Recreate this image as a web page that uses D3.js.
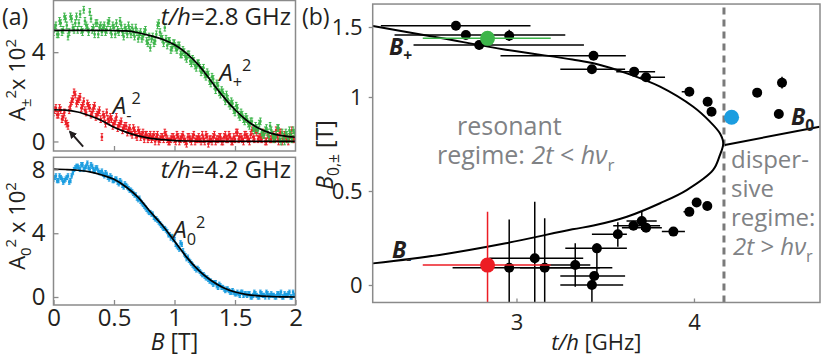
<!DOCTYPE html>
<html>
<head>
<meta charset="utf-8">
<script src="https://cdn.jsdelivr.net/npm/d3@7"></script>
<style>
  body { margin: 0; background: #fff; }
  text { font-family: "Open Sans", "Noto Sans", sans-serif; fill: #231f20; }
</style>
</head>
<body>
<div id="chart"></div>
<script>
// ---- panel (a): field sweeps, B in tesla (two interleaved halves of one sweep) ----
var fieldB = [0, 0.02, 0.04, 0.06, 0.08, 0.1, 0.12, 0.14, 0.16, 0.18,
    0.2, 0.22, 0.24, 0.26, 0.28, 0.3, 0.32, 0.34, 0.36, 0.38,
    0.4, 0.42, 0.44, 0.46, 0.48, 0.5, 0.52, 0.54, 0.56, 0.58,
    0.6, 0.62, 0.64, 0.66, 0.68, 0.7, 0.72, 0.74, 0.76, 0.78,
    0.8, 0.82, 0.84, 0.86, 0.88, 0.9, 0.92, 0.94, 0.96, 0.98,
    1.0, 1.02, 1.04, 1.06, 1.08, 1.1, 1.12, 1.14, 1.16, 1.18,
    1.2, 1.22, 1.24, 1.26, 1.28, 1.3, 1.32, 1.34, 1.36, 1.38,
    1.4, 1.42, 1.44, 1.46, 1.48, 1.5, 1.52, 1.54, 1.56, 1.58,
    1.6, 1.62, 1.64, 1.66, 1.68, 1.7, 1.72, 1.74, 1.76, 1.78,
    1.8, 1.82, 1.84, 1.86, 1.88, 1.9, 1.92, 1.94, 1.96, 1.98, 2.0]
var fieldBOdd = [0.01, 0.03, 0.05, 0.07, 0.09, 0.11, 0.13, 0.15, 0.17, 0.19,
    0.21, 0.23, 0.25, 0.27, 0.29, 0.31, 0.33, 0.35, 0.37, 0.39,
    0.41, 0.43, 0.45, 0.47, 0.49, 0.51, 0.53, 0.55, 0.57, 0.59,
    0.61, 0.63, 0.65, 0.67, 0.69, 0.71, 0.73, 0.75, 0.77, 0.79,
    0.81, 0.83, 0.85, 0.87, 0.89, 0.91, 0.93, 0.95, 0.97, 0.99,
    1.01, 1.03, 1.05, 1.07, 1.09, 1.11, 1.13, 1.15, 1.17, 1.19,
    1.21, 1.23, 1.25, 1.27, 1.29, 1.31, 1.33, 1.35, 1.37, 1.39,
    1.41, 1.43, 1.45, 1.47, 1.49, 1.51, 1.53, 1.55, 1.57, 1.59,
    1.61, 1.63, 1.65, 1.67, 1.69, 1.71, 1.73, 1.75, 1.77, 1.79,
    1.81, 1.83, 1.85, 1.87, 1.89, 1.91, 1.93, 1.95, 1.97, 1.99]

var ampPlus = [4.9, 5.2, 4.8, 5.3, 5.0, 5.5, 4.7, 5.6, 5.1, 5.3,
    5.0, 5.7, 4.9, 5.4, 5.1, 5.8, 5.0, 4.8, 5.3, 5.1,
    4.9, 5.2, 5.0, 5.4, 4.8, 5.1, 5.3, 4.9, 5.2, 4.7,
    5.0, 5.2, 4.8, 4.9, 5.1, 4.6, 4.9, 4.7, 5.0, 4.4,
    4.2, 4.7, 4.5, 5.2, 4.9, 4.6, 5.1, 4.3, 4.5, 4.2,
    4.4, 4.1, 4.3, 3.9, 4.0, 3.7, 3.9, 3.5, 3.6, 3.3,
    3.5, 3.1, 3.3, 2.9, 3.0, 2.6, 2.8, 2.3, 2.5, 2.1,
    2.2, 1.8, 1.9, 1.6, 1.7, 1.3, 1.5, 1.1, 1.2, 0.9,
    1.0, 0.7, 0.9, 0.5, 0.6, 0.8, 0.4, 0.3, 0.6, 0.2,
    0.5, 0.1, 0.3, 0.6, 0.0, 0.2, 0.4, 0.1, 0.3, 0.5, 0.2]
var ampPlusOdd = [5.1, 4.8, 5.4, 4.9, 5.6, 5.2, 4.9, 5.5, 5.0, 5.6,
    5.3, 5.0, 5.9, 5.2, 4.9, 5.5, 5.1, 5.3, 4.8, 5.2,
    5.1, 4.9, 5.3, 5.0, 5.2, 4.8, 5.0, 5.4, 4.9, 5.1,
    4.8, 5.0, 5.1, 4.7, 4.9, 4.8, 4.6, 4.9, 4.5, 4.7,
    4.6, 4.4, 4.8, 5.3, 4.7, 4.4, 4.6, 4.5, 4.1, 4.4,
    4.2, 4.3, 3.9, 4.1, 3.8, 3.9, 3.6, 3.7, 3.4, 3.5,
    3.3, 3.2, 3.0, 3.1, 2.7, 2.9, 2.5, 2.6, 2.2, 2.3,
    2.0, 2.1, 1.7, 1.8, 1.4, 1.6, 1.2, 1.3, 1.0, 1.1,
    0.8, 0.9, 0.6, 0.7, 0.5, 0.9, 0.3, 0.5, 0.4, 0.7,
    0.3, 0.2, 0.6, 0.1, 0.4, 0.0, 0.3, 0.5, 0.1, 0.4]

var ampMinus = [1.3, 1.5, 1.2, 1.4, 1.1, 0.9, 0.7, 1.6, 1.9, 2.1,
    1.8, 2.0, 1.6, 1.4, 1.7, 1.5, 1.3, 1.6, 1.2, 1.4,
    0.2, 1.1, 1.3, 0.9, 1.0, 0.8, 1.1, 0.7, 0.9, 0.6,
    0.7, 0.5, 0.4, 0.6, 0.3, 0.5, 0.2, 0.4, 0.3, 0.1,
    0.3, 0.2, 0.0, 0.3, 0.1, 0.2, 0.4, 0.1, 0.0, 0.2,
    0.1, 0.3, 0.0, 0.2, 0.1, -0.1, 0.2, 0.0, 0.3, 0.1,
    0.2, 0.0, 0.1, 0.3, -0.1, 0.1, 0.2, 0.0, 0.1, 0.2,
    0.0, 0.3, 0.1, 0.2, 0.0, 0.1, 0.4, 0.2, 0.1, 0.3,
    0.2, 0.0, 0.5, 0.1, 0.4, 0.2, 0.1, 0.3, 0.0, 0.2,
    0.1, 0.3, 0.5, 0.0, 0.4, 0.1, 0.2, 0.0, 0.3, 0.1, 0.2]
var ampMinusOdd = [1.4, 1.2, 1.5, 1.0, 1.3, 0.8, 1.4, 1.8, 2.2, 1.7,
    1.9, 1.5, 1.8, 1.3, 1.6, 1.2, 1.5, 1.1, 1.3, 1.0,
    1.2, 0.8, 1.0, 1.1, 0.7, 0.9, 0.6, 0.8, 0.5, 0.7,
    0.4, 0.6, 0.3, 0.5, 0.2, 0.4, 0.3, 0.1, 0.3, 0.2,
    0.1, 0.3, 0.2, 0.0, 0.2, 0.1, 0.3, 0.0, 0.1, 0.2,
    0.0, 0.2, 0.1, 0.3, 0.0, 0.2, 0.1, 0.2, 0.0, 0.1,
    0.1, 0.3, 0.0, 0.2, 0.1, 0.0, 0.3, 0.1, 0.2, 0.0,
    0.2, 0.1, 0.3, 0.0, 0.2, 0.4, 0.1, 0.2, 0.0, 0.3,
    0.1, 0.3, 0.2, 0.5, 0.1, 0.2, 0.4, 0.0, 0.3, 0.1,
    0.3, 0.1, 0.2, 0.4, 0.0, 0.3, 0.1, 0.2, 0.5, 0.1]

var ampZero = [7.4, 7.6, 7.3, 7.5, 7.2, 7.4, 7.6, 7.3, 7.8, 8.1,
    8.2, 8.0, 8.3, 8.1, 8.4, 8.0, 8.2, 7.9, 8.1, 7.8,
    7.9, 7.6, 7.7, 7.4, 7.5, 7.3, 7.4, 7.1, 7.2, 6.9,
    7.0, 6.8, 6.7, 6.5, 6.4, 6.1, 6.0, 5.8, 5.6, 5.4,
    5.3, 5.2, 4.9, 4.8, 4.6, 4.4, 4.3, 4.1, 3.9, 3.8,
    3.6, 3.2, 3.0, 3.3, 2.7, 2.4, 2.3, 2.1, 1.9, 1.7,
    1.7, 1.5, 1.4, 1.2, 1.1, 1.0, 0.8, 0.9, 0.6, 0.7,
    0.6, 0.4, 0.5, 0.3, 0.4, 0.2, 0.3, 0.1, 0.3, 0.2,
    0.1, 0.2, 0.0, 0.3, 0.1, 0.0, 0.2, 0.1, 0.3, 0.0,
    0.2, 0.1, 0.0, 0.2, 0.3, 0.0, 0.1, 0.2, 0.0, 0.3, 0.1]
var ampZeroOdd = [7.5, 7.3, 7.6, 7.4, 7.3, 7.5, 7.2, 7.6, 8.0, 8.2,
    8.1, 8.3, 8.0, 8.2, 8.1, 8.3, 8.0, 8.1, 7.9, 7.8,
    7.7, 7.8, 7.5, 7.6, 7.3, 7.4, 7.2, 7.3, 7.0, 7.1,
    6.9, 6.7, 6.6, 6.4, 6.2, 6.2, 5.9, 5.7, 5.5, 5.3,
    5.2, 5.0, 4.9, 4.7, 4.5, 4.3, 4.2, 3.9, 3.7, 3.6,
    3.3, 3.1, 3.4, 2.9, 2.6, 2.5, 2.2, 2.0, 1.8, 1.8,
    1.6, 1.4, 1.3, 1.2, 1.0, 0.9, 0.9, 0.7, 0.8, 0.6,
    0.5, 0.5, 0.4, 0.3, 0.3, 0.2, 0.2, 0.3, 0.1, 0.2,
    0.2, 0.0, 0.1, 0.2, 0.0, 0.3, 0.1, 0.0, 0.2, 0.1,
    0.1, 0.0, 0.2, 0.1, 0.0, 0.2, 0.1, 0.3, 0.0, 0.1]

var errPM = 0.15, errZero = 0.13

// fitted curves
var fitB = [0, 0.1, 0.2, 0.3, 0.4, 0.5, 0.6, 0.7, 0.8, 0.9, 1.0,
    1.1, 1.2, 1.3, 1.4, 1.5, 1.6, 1.7, 1.8, 1.9, 2.0]
var fitPlus = [4.98, 4.98, 4.98, 4.98, 4.98, 4.97, 4.95, 4.87, 4.74, 4.58, 4.33,
    3.95, 3.42, 2.72, 2.03, 1.42, 0.93, 0.58, 0.36, 0.25, 0.19]
var fitMinus = [1.42, 1.40, 1.32, 1.15, 0.93, 0.64, 0.42, 0.25, 0.14, 0.08, 0.04,
    0.02, 0.01, 0, 0, 0, 0, 0, 0, 0, 0]
var fitZero = [8.03, 8.0, 7.95, 7.85, 7.65, 7.38, 6.9, 6.25, 5.35, 4.5, 3.5,
    2.5, 1.67, 1.05, 0.6, 0.31, 0.15, 0.07, 0.03, 0.01, 0]

// ---- panel (b): [t/h, B, tLo, tHi, BLo, BHi] ----
var crossings = [
    [2.659, 1.509, 2.236, 3.079, 1.48, 1.54],
    [2.715, 1.443, 2.313, 3.275, null, null],
    [2.790, 1.371, 2.420, 3.380, 1.34, 1.40],
    [2.959, 1.438, null, null, 1.40, 1.48],
    [3.434, 1.295, 2.910, 3.616, null, null],
    [3.425, 1.198, 3.247, 3.612, null, null],
    [3.663, 1.181, 3.562, 3.781, null, null],
    [3.730, 1.141, 3.697, 3.837, null, null],
    [3.974, 1.038, 3.931, 3.996, null, null],
    [4.077, 0.975, null, null, null, null],
    [4.099, 0.922, null, null, null, null],
    [4.356, 1.031, null, null, null, null],
    [4.496, 1.102, 4.474, 4.518, 1.06, 1.145],
    [4.478, 0.910, null, null, null, null],
    [2.959, 0.092, 2.640, 3.540, -0.2, 0.349],
    [3.103, 0.142, 2.847, 3.376, -0.2, 0.443],
    [3.159, 0.092, 3.020, 3.470, -0.2, 0.355],
    [3.331, 0.106, 3.135, 3.416, -0.009, 0.222],
    [3.453, 0.195, 3.275, 3.622, 0.05, 0.222],
    [3.438, 0.048, 3.247, 3.612, null, null],
    [3.425, 0.000, 3.247, 3.601, -0.2, 0.03],
    [3.571, 0.270, 3.425, 3.622, 0.204, 0.334],
    [3.659, 0.315, 3.545, 3.809, null, null],
    [3.706, 0.340, 3.620, 3.790, 0.293, 0.389],
    [3.730, 0.305, 3.594, 3.819, null, null],
    [3.884, 0.284, 3.819, 3.949, null, null],
    [3.974, 0.389, 3.941, 3.997, null, null],
    [4.015, 0.439, null, null, null, null],
    [4.075, 0.420, null, null, null, null]
]
var markedPlus = [2.837, 1.419, 2.472, 3.193, null, null]
var markedMinus = [2.837, 0.106, 2.472, 3.193, -0.2, 0.39]
var markedZero = [4.212, 0.892, null, null, null, null]

// resonance curve B+ (upper) round to B- (lower)
var resonanceCurve = [[2.191, 1.507], [2.566, 1.423], [2.94, 1.338], [3.315, 1.268],
    [3.434, 1.241], [3.622, 1.169], [3.809, 1.074], [3.996, 0.948], [4.09, 0.869],
    [4.146, 0.807], [4.165, 0.754], [4.146, 0.691], [4.108, 0.612], [3.959, 0.505],
    [3.809, 0.435], [3.622, 0.363], [3.434, 0.316], [3.315, 0.296], [2.94, 0.222],
    [2.566, 0.16], [2.191, 0.115]]
var dispersiveLine = [[4.174, 0.745], [4.708, 0.842]]
var boundaryT = 4.169

var green = '#3db54a', red = '#ec1c24', blue = '#1b9de0', frameGrey = '#8a8a8a', noteGrey = '#808285'

var svg = d3.select('#chart').append('svg')
    .attr('width', 830)
    .attr('height', 357)

function rich(t, parts, size) {
    // parts: {t, i, b, sub, sup}
    var shift = 0
    parts.forEach(function (p) {
        var s = t.append('tspan').text(p.t)
        var target = p.sub ? size * 0.28 : (p.sup ? -size * 0.42 : 0)
        if (target - shift !== 0) s.attr('dy', target - shift)
        shift = target
        if (p.sub || p.sup) s.attr('font-size', size * 0.68)
        if (p.i) s.attr('font-style', 'italic')
        if (p.b) s.attr('font-weight', 'bold')
    })
    return t
}

// ---------- panel (a) ----------
var xA = d3.scaleLinear().domain([0, 2]).range([53.5, 295.5])
var yTop = d3.scaleLinear().domain([-0.427, 6.315]).range([151, 0.5])
var yBot = d3.scaleLinear().domain([-0.502, 8.764]).range([305, 157.3])

function frame(g, x, y) {
    g.append('rect')
        .attr('x', x.range()[0]).attr('y', y.range()[1])
        .attr('width', x.range()[1] - x.range()[0])
        .attr('height', y.range()[0] - y.range()[1])
        .attr('fill', 'none').attr('stroke', frameGrey).attr('stroke-width', 1.5)
}

function sweep(g, xs, ys, err, color, y) {
    var pt = g.selectAll(null).data(ys).enter().append('g')
        .attr('stroke', color).attr('stroke-width', 1)
    pt.append('line')
        .attr('x1', function (d, i) { return xA(xs[i]) })
        .attr('x2', function (d, i) { return xA(xs[i]) })
        .attr('y1', function (d) { return y(d - err) })
        .attr('y2', function (d) { return y(d + err) })
    ;[-1, 1].forEach(function (s) {
        pt.append('line')
            .attr('x1', function (d, i) { return xA(xs[i]) - 1.3 })
            .attr('x2', function (d, i) { return xA(xs[i]) + 1.3 })
            .attr('y1', function (d) { return y(d + s * err) })
            .attr('y2', function (d) { return y(d + s * err) })
    })
    pt.append('rect')
        .attr('x', function (d, i) { return xA(xs[i]) - 1.2 })
        .attr('y', function (d) { return y(d) - 1.2 })
        .attr('width', 2.4).attr('height', 2.4)
        .attr('fill', color).attr('stroke', 'none')
}

function fitLine(g, vals, y) {
    g.append('path')
        .datum(vals)
        .attr('fill', 'none').attr('stroke', '#000').attr('stroke-width', 1.7)
        .attr('d', d3.line()
            .x(function (d, i) { return xA(fitB[i]) })
            .y(function (d) { return y(d) })
            .curve(d3.curveMonotoneX))
}

function styleAxis(ax) {
    ax.select('.domain').remove()
    ax.selectAll('.tick line').attr('stroke', frameGrey).attr('stroke-width', 1.3)
    ax.selectAll('.tick text').attr('fill', '#231f20')
        .style('font-family', '"Open Sans", sans-serif')
}

var defs = svg.append('defs')
defs.append('clipPath').attr('id', 'clipTop').append('rect')
    .attr('x', 53.5).attr('y', 0).attr('width', 242).attr('height', 151)
defs.append('clipPath').attr('id', 'clipBot').append('rect')
    .attr('x', 53.5).attr('y', 157.3).attr('width', 242).attr('height', 147.7)

var topG = svg.append('g')
var topData = topG.append('g').attr('clip-path', 'url(#clipTop)')
sweep(topData, fieldB, ampMinus, errPM, red, yTop)
sweep(topData, fieldBOdd, ampMinusOdd, errPM, red, yTop)
sweep(topData, fieldB, ampPlus, errPM, green, yTop)
sweep(topData, fieldBOdd, ampPlusOdd, errPM, green, yTop)
fitLine(topData, fitPlus, yTop)
fitLine(topData, fitMinus, yTop)

var ax = topG.append('g').attr('transform', 'translate(53.5,0)')
    .call(d3.axisLeft(yTop).tickValues([0, 4]).tickSize(-5).tickPadding(8).tickFormat(d3.format('d')))
styleAxis(ax)
ax.selectAll('.tick text').attr('font-size', 24)
ax = topG.append('g').attr('transform', 'translate(0,151)')
    .call(d3.axisBottom(xA).tickValues([0.5, 1, 1.5]).tickSize(-5).tickFormat(''))
styleAxis(ax)
frame(topG, xA, yTop)

var botG = svg.append('g')
var botData = botG.append('g').attr('clip-path', 'url(#clipBot)')
sweep(botData, fieldB, ampZero, errZero, blue, yBot)
sweep(botData, fieldBOdd, ampZeroOdd, errZero, blue, yBot)
fitLine(botData, fitZero, yBot)

ax = botG.append('g').attr('transform', 'translate(53.5,0)')
    .call(d3.axisLeft(yBot).tickValues([0, 4, 8]).tickSize(-5).tickPadding(8).tickFormat(d3.format('d')))
styleAxis(ax)
ax.selectAll('.tick text').attr('font-size', 24)
ax = botG.append('g').attr('transform', 'translate(0,305)')
    .call(d3.axisBottom(xA).tickValues([0, 0.5, 1, 1.5, 2]).tickSize(-5).tickPadding(4)
        .tickFormat(function (d) { return d3.format('')(d) }))
styleAxis(ax)
ax.selectAll('.tick text').attr('font-size', 24)
frame(botG, xA, yBot)

// panel (a) texts
svg.append('text').attr('x', 2).attr('y', 25).attr('font-size', 23).text('(a)')
rich(svg.append('text').attr('x', 291).attr('y', 25).attr('text-anchor', 'end').attr('font-size', 24),
    [{ t: 't/h', i: 1 }, { t: '=2.8 GHz' }], 24)
rich(svg.append('text').attr('x', 291).attr('y', 178).attr('text-anchor', 'end').attr('font-size', 24),
    [{ t: 't/h', i: 1 }, { t: '=4.2 GHz' }], 24)
rich(svg.append('text').attr('x', xA(1.37)).attr('y', yTop(2.7)).attr('font-size', 24),
    [{ t: 'A', i: 1 }, { t: '+', sub: 1 }, { t: '2', sup: 1 }], 24)
rich(svg.append('text').attr('x', xA(0.49)).attr('y', yTop(1.24)).attr('font-size', 24),
    [{ t: 'A', i: 1 }, { t: '-', sub: 1 }, { t: '2', sup: 1 }], 24)
rich(svg.append('text').attr('x', xA(0.99)).attr('y', yBot(3.7)).attr('font-size', 24),
    [{ t: 'A', i: 1 }, { t: '0', sub: 1 }, { t: '2', sup: 1 }], 24)

rich(svg.append('text').attr('transform', 'translate(25,80) rotate(-90)')
    .attr('text-anchor', 'middle').attr('font-size', 22),
    [{ t: 'A' }, { t: '±', sub: 1 }, { t: '2', sup: 1 }, { t: 'x 10' }, { t: '2', sup: 1 }], 22)
rich(svg.append('text').attr('transform', 'translate(25,226) rotate(-90)')
    .attr('text-anchor', 'middle').attr('font-size', 22),
    [{ t: 'A' }, { t: '0', sub: 1 }, { t: '2', sup: 1 }, { t: ' x 10' }, { t: '2', sup: 1 }], 22)
rich(svg.append('text').attr('x', xA(1)).attr('y', 350).attr('text-anchor', 'middle').attr('font-size', 23),
    [{ t: 'B', i: 1 }, { t: ' [T]' }], 23)

// arrow towards the dip in A-^2
defs.append('marker').attr('id', 'head').attr('viewBox', '0 0 10 10')
    .attr('refX', 8).attr('refY', 5).attr('markerWidth', 4).attr('markerHeight', 4)
    .attr('orient', 'auto').append('path').attr('d', 'M0,0 L10,5 L0,10 z').attr('fill', '#231f20')
svg.append('line')
    .attr('x1', xA(0.245)).attr('y1', yTop(-0.23))
    .attr('x2', xA(0.136)).attr('y2', yTop(0.44))
    .attr('stroke', '#231f20').attr('stroke-width', 2).attr('marker-end', 'url(#head)')

// ---------- panel (b) ----------
var xT = d3.scaleLinear().domain([2.19, 4.71]).range([372.7, 820])
var yB = d3.scaleLinear().domain([0, 0.5, 1, 1.5]).range([285, 191, 97, 27])
var bLo = -0.093, bHi = 1.664

defs.append('clipPath').attr('id', 'clipB').append('rect')
    .attr('x', xT(2.19)).attr('y', yB(bHi))
    .attr('width', xT(4.71) - xT(2.19)).attr('height', yB(bLo) - yB(bHi))

var gB = svg.append('g')
var plotB = gB.append('g').attr('clip-path', 'url(#clipB)')

function crossing(g, d, color, r) {
    if (d[2] != null) {
        g.append('line').attr('x1', xT(d[2])).attr('x2', xT(d[3]))
            .attr('y1', yB(d[1])).attr('y2', yB(d[1]))
            .attr('stroke', color).attr('stroke-width', 1.5)
    }
    if (d[4] != null) {
        g.append('line').attr('x1', xT(d[0])).attr('x2', xT(d[0]))
            .attr('y1', yB(d[4])).attr('y2', yB(d[5]))
            .attr('stroke', color).attr('stroke-width', 1.5)
    }
    g.append('circle').attr('cx', xT(d[0])).attr('cy', yB(d[1])).attr('r', r).attr('fill', color)
}

// dashed boundary
plotB.append('line')
    .attr('x1', xT(boundaryT)).attr('x2', xT(boundaryT))
    .attr('y1', yB(bLo)).attr('y2', yB(bHi))
    .attr('stroke', '#7a7a7a').attr('stroke-width', 3).attr('stroke-dasharray', '7,5')

var lineB = d3.line().x(function (d) { return xT(d[0]) }).y(function (d) { return yB(d[1]) })
plotB.append('path').datum(resonanceCurve)
    .attr('fill', 'none').attr('stroke', '#000').attr('stroke-width', 2)
    .attr('d', lineB.curve(d3.curveCatmullRom.alpha(0.5)))
plotB.append('path').datum(dispersiveLine)
    .attr('fill', 'none').attr('stroke', '#000').attr('stroke-width', 2)
    .attr('d', d3.line().x(function (d) { return xT(d[0]) }).y(function (d) { return yB(d[1]) }))

crossings.forEach(function (d) { crossing(plotB, d, '#000', 5) })
crossing(plotB, markedPlus, green, 7.5)
crossing(plotB, markedMinus, red, 7.5)
crossing(plotB, markedZero, blue, 7.5)

// frame + axes
gB.append('rect').attr('x', xT(2.19)).attr('y', yB(bHi))
    .attr('width', xT(4.71) - xT(2.19)).attr('height', yB(bLo) - yB(bHi))
    .attr('fill', 'none').attr('stroke', frameGrey).attr('stroke-width', 1.5)
ax = gB.append('g').attr('transform', 'translate(' + xT(2.19) + ',0)')
    .call(d3.axisLeft(yB).tickValues([0, 0.5, 1, 1.5]).tickSize(4).tickPadding(6)
        .tickFormat(function (d) { return d3.format('')(d) }))
styleAxis(ax)
ax.selectAll('.tick text').attr('font-size', 22)
ax = gB.append('g').attr('transform', 'translate(0,' + yB(bLo) + ')')
    .call(d3.axisBottom(xT).tickValues([3, 4]).tickSize(-4).tickPadding(12).tickFormat(d3.format('d')))
styleAxis(ax)
ax.selectAll('.tick text').attr('font-size', 22)

svg.append('text').attr('x', 302).attr('y', 25).attr('font-size', 23).text('(b)')
rich(svg.append('text').attr('transform', 'translate(333,155) rotate(-90)')
    .attr('text-anchor', 'middle').attr('font-size', 23),
    [{ t: 'B', i: 1 }, { t: '0,±', sub: 1 }, { t: ' [T]' }], 23)
rich(svg.append('text').attr('x', xT(3.45)).attr('y', 350).attr('text-anchor', 'middle').attr('font-size', 22),
    [{ t: 't/h', i: 1 }, { t: ' [GHz]' }], 22)

rich(svg.append('text').attr('x', 389).attr('y', 55).attr('font-size', 23),
    [{ t: 'B', i: 1, b: 1 }, { t: '+', sub: 1, b: 1 }], 23)
rich(svg.append('text').attr('x', 392).attr('y', 258).attr('font-size', 23),
    [{ t: 'B', i: 1, b: 1 }, { t: '-', sub: 1, b: 1 }], 23)
rich(svg.append('text').attr('x', 791).attr('y', 125).attr('font-size', 23),
    [{ t: 'B', i: 1, b: 1 }, { t: '0', sub: 1, b: 1 }], 23)

var note = svg.append('g')
note.append('text').attr('x', 457).attr('y', 135).attr('font-size', 25).style('fill', noteGrey).text('resonant')
rich(note.append('text').attr('x', 437).attr('y', 164).attr('font-size', 25).style('fill', noteGrey),
    [{ t: 'regime: ' }, { t: '2t', i: 1 }, { t: ' < ' }, { t: 'hν', i: 1 }, { t: 'r', sub: 1 }], 25)
note.selectAll('tspan').style('fill', noteGrey)
var dispLines = ['disper-', 'sive', 'regime:']
dispLines.forEach(function (s, i) {
    note.append('text').attr('x', 731).attr('y', 168 + i * 29).attr('font-size', 24)
        .style('fill', noteGrey).text(s)
})
rich(note.append('text').attr('x', 733).attr('y', 255).attr('font-size', 24).style('fill', noteGrey),
    [{ t: '2t', i: 1 }, { t: ' > ' }, { t: 'hν', i: 1 }, { t: 'r', sub: 1 }], 24)
note.selectAll('tspan').style('fill', noteGrey)
</script>
</body>
</html>
